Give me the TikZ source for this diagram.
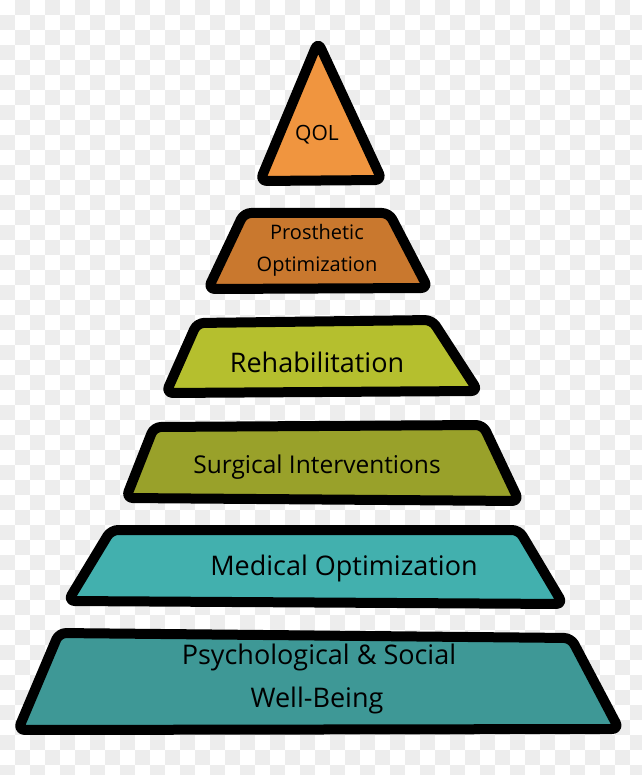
\documentclass[tikz,border=0pt]{standalone}
\usepackage{fontspec}
\setmainfont{Open Sans}
\definecolor{qolc}{HTML}{F0953F}
\definecolor{prosc}{HTML}{C9782E}
\definecolor{rehabc}{HTML}{B5BF2E}
\definecolor{surgc}{HTML}{99A12A}
\definecolor{medc}{HTML}{42B0AE}
\definecolor{psyc}{HTML}{3E9896}
\definecolor{checkc}{HTML}{EDEDED}
\tikzset{
  tier/.style={draw=black, line width=10pt, line join=round, rounded corners=7pt},
  lbl/.style={text=black, inner sep=0pt, align=center},
}
\begin{document}
\begin{tikzpicture}[x=1pt,y=-1pt]
\useasboundingbox (0,0) rectangle (641,775);
\fill[white] (0,0) rectangle (641,775);
% faint checkerboard background
\foreach \i in {0,...,42}{
  \foreach \j in {0,...,51}{
    \pgfmathparse{int(mod(\i+\j,2))}
    \ifnum\pgfmathresult=1
      \fill[checkc] (\i*15,\j*15) rectangle ++(15,15);
    \fi
  }
}
% tiers
\draw[tier, fill=qolc] (318,42) -- (382,180) -- (260,181) -- cycle;
\draw[tier, fill=prosc] (244,213) -- (389,213) -- (428,288) -- (208,289) -- cycle;
\draw[tier, fill=rehabc] (197,323) -- (432,320) -- (478,391) -- (166,393) -- cycle;
\draw[tier, fill=surgc] (154,427) -- (483,425) -- (519,501) -- (126,498) -- cycle;
\draw[tier, fill=medc] (111,530) -- (519,530) -- (563,604) -- (68,601) -- cycle;
\draw[tier, fill=psyc] (59,633) -- (571,638) -- (619,729) -- (18,730) -- cycle;
% labels
\node[lbl, font=\fontsize{21}{24}\selectfont] (qol) at (317,135) {QOL};
\node[lbl, font=\fontsize{20}{24}\selectfont] (pros1) at (317,232) {Prosthetic};
\node[lbl, font=\fontsize{20}{24}\selectfont] (pros2) at (317,267) {Optimization};
\node[lbl, font=\fontsize{27}{30}\selectfont] (rehab) at (317,362) {Rehabilitation};
\node[lbl, font=\fontsize{24.5}{28}\selectfont] (surg) at (317,467) {Surgical Interventions};
\node[lbl, font=\fontsize{27}{30}\selectfont] (med) at (344,568) {Medical Optimization};
\node[lbl, font=\fontsize{27}{30}\selectfont] (psy1) at (319,657) {Psychological \& Social};
\node[lbl, font=\fontsize{27}{30}\selectfont] (psy2) at (317,700) {Well-Being};
\end{tikzpicture}
\end{document}
